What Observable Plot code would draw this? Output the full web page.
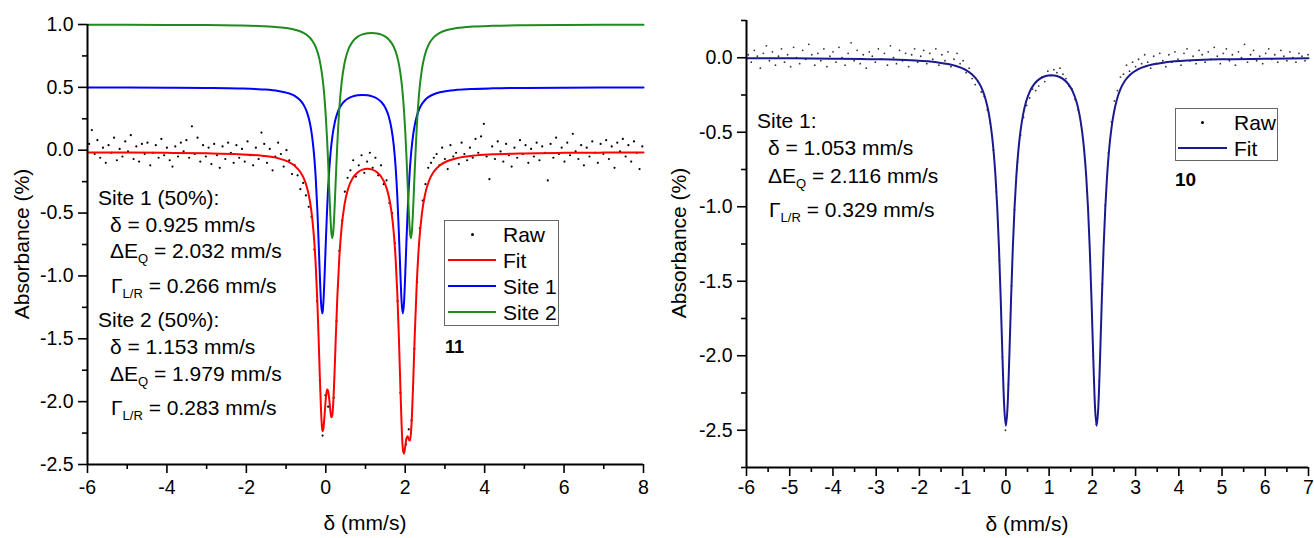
<!DOCTYPE html>
<html><head><meta charset="utf-8">
<script src="https://cdn.jsdelivr.net/npm/d3@7"></script>
<script src="https://cdn.jsdelivr.net/npm/@observablehq/plot@0.6"></script>
<style>
body{margin:0;background:#fff;font-family:"Liberation Sans",Arial,sans-serif;color:#000}
#wrap{position:relative;width:1314px;height:538px;overflow:hidden;background:#fff}
.abs{position:absolute;white-space:nowrap;line-height:1}
.abs sub{font-size:0.62em;vertical-align:-0.38em;line-height:0}
.plot{position:absolute;top:0}
</style></head><body>
<div id="wrap"></div>
<script>
// ---------- Panel 11 (left) ----------
const xMajorLeft = [-6,-4,-2,0,2,4,6,8];
const xMinorLeft = [-5,-3,-1,1,3,5,7];
const yMajorLeft = [-2.5,-2,-1.5,-1,-0.5,0,0.5,1];
const yMinorLeft = [-2.25,-1.75,-1.25,-0.75,-0.25,0.25,0.75];

const fitXLeft = [-6,-5,-4,-3,-2.2,-1.6,-1.2,-0.95,-0.78,-0.65,-0.55,-0.47,-0.40,-0.34,-0.29,-0.25,-0.21,-0.18,-0.15,-0.12,-0.09,-0.075,-0.06,-0.03,0,0.03,0.045,0.06,0.09,0.12,0.14,0.164,0.19,0.22,0.25,0.29,0.34,0.40,0.47,0.56,0.68,0.80,0.925,1.05,1.17,1.29,1.40,1.50,1.58,1.65,1.71,1.76,1.80,1.84,1.88,1.91,1.94,1.97,2.0,2.03,2.06,2.09,2.12,2.143,2.17,2.20,2.24,2.29,2.35,2.42,2.50,2.60,2.72,2.87,3.05,3.3,3.7,4.2,5,6,7,8];
const fitYLeft = [-0.0178,-0.0189,-0.0208,-0.0247,-0.0318,-0.0445,-0.0645,-0.091,-0.1245,-0.1692,-0.2267,-0.3009,-0.4042,-0.545,-0.7256,-0.9357,-1.2263,-1.5007,-1.8013,-2.0684,-2.2197,-2.2358,-2.2151,-2.1044,-1.9798,-1.909,-1.9031,-1.9168,-1.9914,-2.0862,-2.1245,-2.1088,-1.9986,-1.7742,-1.5069,-1.1742,-0.8574,-0.6092,-0.4351,-0.3084,-0.2208,-0.1767,-0.1544,-0.1484,-0.1546,-0.1751,-0.2125,-0.2741,-0.3584,-0.4803,-0.6503,-0.8727,-1.1314,-1.4817,-1.9012,-2.1925,-2.376,-2.4136,-2.3555,-2.2911,-2.2753,-2.3009,-2.3091,-2.2576,-2.1088,-1.8545,-1.4725,-1.0666,-0.736,-0.5039,-0.3511,-0.2427,-0.1706,-0.1208,-0.0877,-0.0631,-0.0439,-0.033,-0.0252,-0.0211,-0.0191,-0.0178];
const site1Left = [0.4986,0.498,0.497,0.495,0.491,0.4837,0.4715,0.4544,0.4316,0.3997,0.3568,0.2992,0.2161,0.099,-0.0553,-0.238,-0.4936,-0.7347,-0.9946,-1.2108,-1.2977,-1.2753,-1.2112,-0.9955,-0.7362,-0.4956,-0.3905,-0.2969,-0.1415,-0.022,0.0416,0.1048,0.1601,0.2111,0.2514,0.2931,0.3314,0.3638,0.3897,0.4114,0.4282,0.4365,0.4396,0.4365,0.4282,0.4114,0.3835,0.3377,0.2737,0.1785,0.0418,-0.1415,-0.358,-0.652,-0.9955,-1.2112,-1.2977,-1.2109,-0.9945,-0.7347,-0.4936,-0.2946,-0.1387,-0.044,0.0452,0.1227,0.2,0.2686,0.3242,0.3674,0.3997,0.4259,0.4454,0.4605,0.4715,0.4803,0.4876,0.4921,0.4954,0.4972,0.4981,0.4987];
const site2Left = [0.9986,0.998,0.997,0.9953,0.9922,0.9868,0.979,0.9696,0.9589,0.9461,0.9315,0.9149,0.8947,0.871,0.8447,0.8173,0.7823,0.749,0.7083,0.6574,0.593,0.5545,0.5111,0.4061,0.2714,0.1016,0.0024,-0.1049,-0.3349,-0.5492,-0.6511,-0.6986,-0.6437,-0.4703,-0.2433,0.0477,0.3262,0.542,0.6902,0.7952,0.866,0.9018,0.921,0.9301,0.9322,0.9285,0.919,0.9032,0.8829,0.8562,0.8229,0.7838,0.7416,0.6853,0.6093,0.5337,0.4367,0.3123,0.154,-0.0414,-0.2667,-0.4913,-0.6554,-0.6986,-0.639,-0.4622,-0.1575,0.1798,0.4548,0.6437,0.7642,0.8464,0.899,0.9337,0.9558,0.9716,0.9835,0.9899,0.9944,0.9967,0.9978,0.9985];

const rawXLeft = [-5.96,-5.89,-5.82,-5.75,-5.68,-5.61,-5.54,-5.47,-5.40,-5.33,-5.26,-5.19,-5.12,-5.05,-4.98,-4.91,-4.84,-4.77,-4.70,-4.63,-4.56,-4.49,-4.42,-4.35,-4.28,-4.21,-4.14,-4.07,-4.00,-3.93,-3.86,-3.79,-3.72,-3.65,-3.58,-3.51,-3.44,-3.37,-3.30,-3.23,-3.16,-3.09,-3.02,-2.95,-2.88,-2.81,-2.74,-2.67,-2.60,-2.53,-2.46,-2.39,-2.32,-2.25,-2.18,-2.11,-2.04,-1.97,-1.90,-1.83,-1.76,-1.69,-1.62,-1.55,-1.48,-1.41,-1.34,-1.27,-1.20,-1.13,-1.06,-0.99,-0.92,-0.85,-0.78,-0.71,-0.64,-0.57,-0.50,-0.43,-0.36,-0.29,-0.22,-0.15,-0.08,-0.01,0.06,0.13,0.20,0.27,0.34,0.41,0.48,0.55,0.62,0.69,0.76,0.83,0.90,0.97,1.04,1.11,1.18,1.25,1.32,1.39,1.46,1.53,1.60,1.67,1.74,1.81,1.88,1.95,2.02,2.09,2.16,2.23,2.30,2.37,2.44,2.51,2.58,2.65,2.72,2.79,2.86,2.93,3.00,3.07,3.14,3.21,3.28,3.35,3.42,3.49,3.56,3.63,3.70,3.77,3.84,3.91,3.98,4.05,4.12,4.19,4.26,4.33,4.40,4.47,4.54,4.61,4.68,4.75,4.82,4.89,4.96,5.03,5.10,5.17,5.24,5.31,5.38,5.45,5.52,5.59,5.66,5.73,5.80,5.87,5.94,6.01,6.08,6.15,6.22,6.29,6.36,6.43,6.50,6.57,6.64,6.71,6.78,6.85,6.92,6.99,7.06,7.13,7.20,7.27,7.34,7.41,7.48,7.55,7.62,7.69,7.76,7.83,7.90,7.97];
const rawYLeft = [0.05,0.16,-0.03,0.08,-0.06,0.02,-0.10,0.04,-0.02,0.10,-0.08,0.01,-0.05,0.07,-0.01,0.12,-0.07,0.03,-0.09,0.05,-0.03,0.06,-0.12,-0.02,0.04,-0.06,0.09,-0.04,0.02,-0.08,-0.13,0.03,-0.05,0.06,-0.01,0.08,-0.06,0.19,-0.03,0.10,-0.09,0.04,-0.05,0.02,-0.11,0.05,-0.04,-0.14,0.03,-0.07,0.06,-0.02,-0.10,0.04,-0.06,0.01,-0.09,0.07,-0.04,-0.12,0.02,-0.07,0.14,0.05,-0.10,0.01,-0.16,-0.05,0.06,-0.03,-0.13,0.00,-0.08,-0.19,-0.12,-0.20,-0.31,-0.26,-0.36,-0.45,-0.53,-0.79,-1.20,-1.83,-2.27,-1.95,-2.04,-2.10,-1.97,-1.36,-0.80,-0.56,-0.33,-0.22,-0.16,-0.08,-0.21,-0.12,-0.04,-0.18,-0.09,-0.02,-0.14,-0.06,-0.20,-0.12,-0.27,-0.24,-0.42,-0.50,-0.74,-1.20,-1.93,-2.39,-2.34,-2.22,-2.15,-1.58,-1.05,-0.62,-0.40,-0.27,-0.14,-0.10,-0.06,-0.03,-0.12,0.02,-0.07,-0.15,0.04,-0.05,-0.02,-0.11,0.06,-0.03,-0.08,0.02,-0.06,0.09,-0.02,0.11,0.21,-0.05,-0.23,0.03,-0.07,0.07,-0.01,-0.09,0.05,-0.04,-0.13,0.02,-0.06,0.08,-0.03,0.04,-0.10,0.01,-0.05,0.06,-0.08,0.03,-0.02,-0.24,0.05,-0.06,0.10,-0.03,0.02,-0.09,0.06,-0.04,0.13,-0.01,-0.07,0.04,-0.12,0.02,-0.05,0.07,-0.02,-0.10,0.05,-0.03,0.08,-0.07,0.03,-0.14,0.06,-0.01,0.09,-0.05,0.04,-0.09,0.07,-0.02,-0.15,0.03];

const notesLeft = ["Site 1 (50%):","δ = 0.925 mm/s","ΔE<sub>Q</sub> = 2.032 mm/s","Γ<sub>L/R</sub> = 0.266 mm/s","Site 2 (50%):","δ = 1.153 mm/s","ΔE<sub>Q</sub> = 1.979 mm/s","Γ<sub>L/R</sub> = 0.283 mm/s"];
const legendLeft = ["Raw","Fit","Site 1","Site 2"];

// ---------- Panel 10 (right) ----------
const xMajorRight = [-6,-5,-4,-3,-2,-1,0,1,2,3,4,5,6,7];
const xMinorRight = [-5.5,-4.5,-3.5,-2.5,-1.5,-0.5,0.5,1.5,2.5,3.5,4.5,5.5,6.5];
const yMajorRight = [-2.5,-2,-1.5,-1,-0.5,0];
const yMinorRight = [-2.75,-2.25,-1.75,-1.25,-0.75,-0.25,0.25];

const fitXRight = [-6,-5,-4,-3,-2.2,-1.6,-1.2,-0.95,-0.78,-0.65,-0.55,-0.47,-0.40,-0.34,-0.29,-0.24,-0.20,-0.16,-0.12,-0.08,-0.04,0,0.04,0.08,0.12,0.16,0.20,0.24,0.29,0.34,0.40,0.47,0.55,0.65,0.78,0.92,1.05,1.18,1.32,1.45,1.55,1.63,1.70,1.76,1.81,1.86,1.90,1.94,1.98,2.02,2.06,2.10,2.14,2.18,2.22,2.26,2.30,2.34,2.39,2.44,2.50,2.57,2.65,2.75,2.88,3.05,3.3,3.7,4.3,5.1,6.1,7];
const fitYRight = [-0.0029,-0.004,-0.0059,-0.0099,-0.0172,-0.0305,-0.0514,-0.0786,-0.1125,-0.1565,-0.211,-0.2779,-0.3658,-0.4768,-0.6091,-0.7967,-1.0031,-1.2746,-1.6159,-1.9994,-2.3325,-2.47,-2.3335,-2.0016,-1.6193,-1.2791,-1.0088,-0.8038,-0.6177,-0.4871,-0.3781,-0.2926,-0.2289,-0.179,-0.1421,-0.1228,-0.1176,-0.1228,-0.1421,-0.179,-0.2289,-0.2926,-0.3781,-0.4871,-0.6177,-0.8038,-1.0088,-1.2791,-1.6193,-2.0016,-2.3335,-2.47,-2.3325,-1.9994,-1.6159,-1.2746,-1.0031,-0.7967,-0.6091,-0.4768,-0.3658,-0.2779,-0.211,-0.1565,-0.1125,-0.0786,-0.0514,-0.0305,-0.0172,-0.0099,-0.0059,-0.0041];

const rawXRight = [-5.96,-5.89,-5.82,-5.75,-5.68,-5.61,-5.54,-5.47,-5.40,-5.33,-5.26,-5.19,-5.12,-5.05,-4.98,-4.91,-4.84,-4.77,-4.70,-4.63,-4.56,-4.49,-4.42,-4.35,-4.28,-4.21,-4.14,-4.07,-4.00,-3.93,-3.86,-3.79,-3.72,-3.65,-3.58,-3.51,-3.44,-3.37,-3.30,-3.23,-3.16,-3.09,-3.02,-2.95,-2.88,-2.81,-2.74,-2.67,-2.60,-2.53,-2.46,-2.39,-2.32,-2.25,-2.18,-2.11,-2.04,-1.97,-1.90,-1.83,-1.76,-1.69,-1.62,-1.55,-1.48,-1.41,-1.34,-1.27,-1.20,-1.13,-1.06,-0.99,-0.92,-0.85,-0.78,-0.71,-0.64,-0.57,-0.50,-0.43,-0.36,-0.29,-0.22,-0.15,-0.08,-0.01,0.06,0.13,0.20,0.27,0.34,0.41,0.48,0.55,0.62,0.69,0.76,0.83,0.90,0.97,1.04,1.11,1.18,1.25,1.32,1.39,1.46,1.53,1.60,1.67,1.74,1.81,1.88,1.95,2.02,2.09,2.16,2.23,2.30,2.37,2.44,2.51,2.58,2.65,2.72,2.79,2.86,2.93,3.00,3.07,3.14,3.21,3.28,3.35,3.42,3.49,3.56,3.63,3.70,3.77,3.84,3.91,3.98,4.05,4.12,4.19,4.26,4.33,4.40,4.47,4.54,4.61,4.68,4.75,4.82,4.89,4.96,5.03,5.10,5.17,5.24,5.31,5.38,5.45,5.52,5.59,5.66,5.73,5.80,5.87,5.94,6.01,6.08,6.15,6.22,6.29,6.36,6.43,6.50,6.57,6.64,6.71,6.78,6.85,6.92,6.99];
const rawYRight = [0.02,-0.03,0.05,0.01,-0.07,0.03,0.08,-0.02,0.04,-0.05,0.01,0.06,-0.03,0.02,-0.06,0.07,0.00,-0.04,0.05,-0.01,0.09,0.02,-0.05,0.03,-0.02,0.06,-0.06,0.01,0.04,-0.03,0.07,0.00,-0.05,0.03,0.10,-0.02,0.05,-0.04,0.02,-0.07,0.04,0.01,-0.03,0.06,-0.01,0.03,-0.05,0.08,0.00,-0.04,0.05,-0.02,0.03,-0.06,0.02,0.06,-0.03,0.01,0.05,-0.04,0.03,-0.01,0.06,-0.05,0.02,-0.02,0.04,-0.06,-0.01,0.03,-0.04,-0.02,-0.10,-0.07,-0.14,-0.18,-0.16,-0.23,-0.26,-0.35,-0.44,-0.62,-0.90,-1.36,-2.01,-2.50,-2.19,-1.53,-1.02,-0.70,-0.52,-0.40,-0.32,-0.27,-0.21,-0.22,-0.19,-0.13,-0.16,-0.09,-0.12,-0.08,-0.10,-0.07,-0.11,-0.14,-0.19,-0.21,-0.28,-0.35,-0.45,-0.62,-0.90,-1.36,-2.00,-2.46,-2.17,-1.52,-0.99,-0.64,-0.43,-0.29,-0.22,-0.13,-0.11,-0.05,-0.09,-0.03,-0.06,-0.01,-0.04,0.02,-0.03,-0.07,0.01,-0.04,0.03,-0.02,-0.06,0.02,-0.03,0.04,-0.01,-0.05,0.03,0.06,-0.02,0.01,-0.04,0.05,0.02,-0.03,0.04,-0.01,0.07,0.01,-0.04,0.03,0.06,-0.02,0.02,-0.05,0.04,0.00,0.09,-0.03,0.02,0.05,-0.02,0.01,-0.04,0.03,0.06,-0.01,0.02,-0.03,0.05,0.01,-0.02,0.04,0.00,-0.03,0.03,0.01,-0.02,0.02];

const notesRight = ["Site 1:","δ = 1.053 mm/s","ΔE<sub>Q</sub> = 2.116 mm/s","Γ<sub>L/R</sub> = 0.329 mm/s"];
const legendRight = ["Raw","Fit"];

// ---------- drawing ----------
const FONT = '"Liberation Sans", Arial, sans-serif';
const RED = "#ff0000", BLUE = "#0000ff", GREEN = "#1f8b1f", NAVY = "#1a1a8e";
const TICK_FONT = 19.5;
const wrap = document.getElementById("wrap");

function axes(xMaj, xMin, yMaj, yMin, x0, y0, padX) {
  return [
    Plot.axisX(xMin, {tickSize: 5, tickFormat: () => "", strokeWidth: 1.6, label: null}),
    Plot.axisX(xMaj, {tickSize: 9, tickPadding: padX, tickFormat: d => String(d), strokeWidth: 1.6, label: null, fontSize: TICK_FONT}),
    Plot.axisY(yMin, {tickSize: 5, tickFormat: () => "", strokeWidth: 1.6, label: null}),
    Plot.axisY(yMaj, {tickSize: 9, tickPadding: 5, tickFormat: d => d.toFixed(1), strokeWidth: 1.6, label: null, fontSize: TICK_FONT}),
    Plot.ruleX([x0], {strokeWidth: 2}),
    Plot.ruleY([y0], {strokeWidth: 2})
  ];
}

const leftPlot = Plot.plot({
  width: 660, height: 538,
  marginLeft: 87, marginRight: 17, marginTop: 24, marginBottom: 74,
  x: {domain: [-6, 8]},
  y: {domain: [-2.5, 1]},
  style: {background: "transparent", fontFamily: FONT, fontSize: TICK_FONT + "px", color: "#000", overflow: "visible"},
  marks: [
    Plot.dot({length: rawXLeft.length}, {x: rawXLeft, y: rawYLeft, r: 1.1, fill: "#000"}),
    Plot.line({length: fitXLeft.length}, {x: fitXLeft, y: fitYLeft, curve: "monotone-x", stroke: RED, strokeWidth: 2}),
    Plot.line({length: fitXLeft.length}, {x: fitXLeft, y: site1Left, curve: "monotone-x", stroke: BLUE, strokeWidth: 2}),
    Plot.line({length: fitXLeft.length}, {x: fitXLeft, y: site2Left, curve: "monotone-x", stroke: GREEN, strokeWidth: 2}),
    ...axes(xMajorLeft, xMinorLeft, yMajorLeft, yMinorLeft, -6, -2.5, 7)
  ]
});
leftPlot.classList.add("plot");
leftPlot.style.left = "0px";
wrap.appendChild(leftPlot);

const rightPlot = Plot.plot({
  width: 654, height: 538,
  marginLeft: 86, marginRight: 6, marginTop: 20, marginBottom: 71,
  x: {domain: [-6, 7]},
  y: {domain: [-2.75, 0.25]},
  style: {background: "transparent", fontFamily: FONT, fontSize: TICK_FONT + "px", color: "#000", overflow: "visible"},
  marks: [
    Plot.dot({length: rawXRight.length}, {x: rawXRight, y: rawYRight, r: 0.9, fill: "#333"}),
    Plot.line({length: fitXRight.length}, {x: fitXRight, y: fitYRight, curve: "monotone-x", stroke: NAVY, strokeWidth: 2}),
    ...axes(xMajorRight, xMinorRight, yMajorRight, yMinorRight, -6, -2.75, 4)
  ]
});
rightPlot.classList.add("plot");
rightPlot.style.left = "660px";
wrap.appendChild(rightPlot);

// ---------- text overlays ----------
function addText(html, x, baseline, size, extra) {
  const d = document.createElement("div");
  d.className = "abs";
  d.style.left = x + "px";
  d.style.top = (baseline - 0.8465 * size) + "px";
  d.style.fontSize = size + "px";
  if (extra) Object.assign(d.style, extra);
  d.innerHTML = html;
  wrap.appendChild(d);
  return d;
}
function addCentered(text, cx, cy, size, rotate) {
  const d = document.createElement("div");
  d.className = "abs";
  d.style.left = cx + "px";
  d.style.top = cy + "px";
  d.style.fontSize = size + "px";
  d.style.transform = "translate(-50%,-50%)" + (rotate ? " rotate(-90deg)" : "");
  d.textContent = text;
  wrap.appendChild(d);
}
function addBox(x, y, w, h) {
  const d = document.createElement("div");
  Object.assign(d.style, {position: "absolute", left: x + "px", top: y + "px", width: w + "px", height: h + "px", border: "1px solid #666", boxSizing: "border-box"});
  wrap.appendChild(d);
}
function addSwatchLine(x, y, w, color) {
  const d = document.createElement("div");
  Object.assign(d.style, {position: "absolute", left: x + "px", top: (y - 1) + "px", width: w + "px", height: "2px", background: color});
  wrap.appendChild(d);
}
function addSwatchDot(x, y, color) {
  const d = document.createElement("div");
  Object.assign(d.style, {position: "absolute", left: (x - 1.5) + "px", top: (y - 1.5) + "px", width: "3px", height: "3px", background: color, borderRadius: "50%"});
  wrap.appendChild(d);
}

// axis titles
addCentered("Absorbance (%)", 21, 244, 21, true);
addCentered("δ (mm/s)", 365, 522, 21, false);
addCentered("Absorbance (%)", 678, 243, 21, true);
addCentered("δ (mm/s)", 1027, 523, 21, false);

// left annotations
const noteXLeft = [98,110,110,111,98,110,110,111];
const noteBLeft = [205,232,258,293,327,354,381,415];
notesLeft.forEach((t, i) => addText(t, noteXLeft[i], noteBLeft[i], 21));
addText("11", 445, 353, 18, {fontWeight: "bold"});

// left legend
addBox(444, 220, 115, 106);
const legColorsLeft = [null, RED, BLUE, GREEN];
const legBaseLeft = [242, 268, 294, 320];
legendLeft.forEach((t, i) => {
  const cy = legBaseLeft[i] - 8;
  if (i === 0) addSwatchDot(472, cy, "#000"); else addSwatchLine(448, cy, 48, legColorsLeft[i]);
  addText(t, 503, legBaseLeft[i], 21);
});

// right annotations
const noteXRight = [757,768,768,769];
const noteBRight = [128,155,183,217];
notesRight.forEach((t, i) => addText(t, noteXRight[i], noteBRight[i], 21));
addText("10", 1175, 186, 19, {fontWeight: "bold"});

// right legend
addBox(1175, 108, 103, 53);
addSwatchDot(1202, 122, "#000");
addText(legendRight[0], 1234, 130, 21);
addSwatchLine(1178, 148, 49, NAVY);
addText(legendRight[1], 1234, 156, 21);
</script>
</body></html>
